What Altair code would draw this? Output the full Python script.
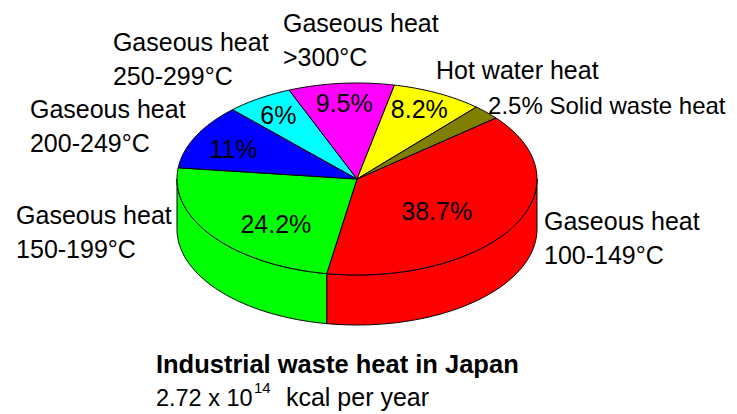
import altair as alt
import numpy as np
import pandas as pd

# ---------------- data ----------------
categories = [
    "Gaseous heat\n100-149°C",
    "Gaseous heat\n150-199°C",
    "Gaseous heat\n200-249°C",
    "Gaseous heat\n250-299°C",
    "Gaseous heat\n>300°C",
    "Hot water heat",
    "Solid waste heat",
]
shares = [38.7, 24.2, 11.0, 6.0, 9.5, 8.2, 2.5]
pct_labels = ["38.7%", "24.2%", "11%", "6%", "9.5%", "8.2%", "2.5%"]
colors = ["#ff0000", "#00ff00", "#0000ff", "#00ffff", "#ff00ff", "#ffff00", "#808000"]

title_text = "Industrial waste heat in Japan"
subtitle_main = "2.72 x 10"
subtitle_exp = "14"
subtitle_tail = "kcal per year"

# ---------------- layout / style ----------------
START_DEG = -39.5      # where the first slice starts (clockwise, screen)
TILT = 96 / 180        # vertical squash of the pie's top face
DEPTH = 50 / 180       # thickness of the pie
FONT = "Liberation Sans"
W, H = 721, 406
X_DOM = [-349 / 180, (W - 349) / 180]
Y_DOM = [-(H - 171) / 180, 171 / 180]

# label anchors in pie-radius units (relative to pie centre)
pct_anchor = [(0.443, -0.228), (-0.451, -0.300), (-0.687, 0.114),
              (-0.437, 0.308), (-0.071, 0.372), (0.346, 0.339)]
outer_anchor = [(1.039, -0.283), (-1.894, -0.250), (-1.817, 0.339),
                (-1.356, 0.711), (-0.411, 0.817), (0.439, 0.556), (0.728, 0.361)]
title_anchor = (-1.117, -1.078)
sub_anchor = (-1.117, -1.261)

# ---------------- geometry derived from the data ----------------
total = sum(shares)
sweeps = [s / total * 360 for s in shares]
starts = list(START_DEG + np.concatenate([[0], np.cumsum(sweeps)[:-1]]))
ends = [s + w for s, w in zip(starts, sweeps)]


def ellipse_pt(t_deg, drop=0.0):
    t = np.deg2rad(t_deg)
    return float(np.cos(t)), float(-TILT * np.sin(t) - drop)


top_rows, side_rows = [], []
for k, (s, e) in enumerate(zip(starts, ends)):
    ts = np.linspace(s, e, int(abs(e - s)) + 3)
    pts = [(0.0, 0.0)] + [ellipse_pt(t) for t in ts] + [(0.0, 0.0)]
    for i, (x, y) in enumerate(pts):
        top_rows.append({"pid": k, "i": i, "x": x, "y": y, "color": colors[k]})
    # visible side wall: front half of the ellipse (0..180 deg, screen clockwise)
    for shift in (-360, 0, 360):
        lo, hi = max(s + shift, 0), min(e + shift, 180)
        if hi > lo:
            ts = np.linspace(lo, hi, int(hi - lo) + 3)
            spts = [ellipse_pt(t) for t in ts] + [ellipse_pt(t, DEPTH) for t in ts[::-1]]
            spts.append(spts[0])
            for i, (x, y) in enumerate(spts):
                side_rows.append({"pid": f"{k}_{shift}", "i": i, "x": x, "y": y,
                                  "color": colors[k]})

top_df = pd.DataFrame(top_rows)
side_df = pd.DataFrame(side_rows)

xs = alt.Scale(domain=X_DOM, nice=False, zero=False)
ys = alt.Scale(domain=Y_DOM, nice=False, zero=False)
X = alt.X("x:Q", scale=xs, axis=None)
Y = alt.Y("y:Q", scale=ys, axis=None)


def poly_layer(df):
    return alt.Chart(df).mark_line(strokeWidth=1, interpolate="linear").encode(
        x=X, y=Y,
        order=alt.Order("i:Q"),
        detail=alt.Detail("pid:N"),
        fill=alt.Fill("color:N", scale=None, legend=None),
        stroke=alt.value("black"),
    )


side = poly_layer(side_df)
top = poly_layer(top_df)

pct_df = pd.DataFrame({
    "text": pct_labels[:6],
    "x": [p[0] for p in pct_anchor],
    "y": [p[1] for p in pct_anchor],
})
outer_texts = categories[:6] + [pct_labels[6] + " " + categories[6]]
outer_df = pd.DataFrame({
    "text": outer_texts,
    "x": [p[0] for p in outer_anchor],
    "y": [p[1] for p in outer_anchor],
})

pct = alt.Chart(pct_df).mark_text(
    align="center", baseline="alphabetic", font=FONT, fontSize=25, color="black"
).encode(x=X, y=Y, text="text:N")

outer_main = alt.Chart(outer_df.iloc[:6]).mark_text(
    align="left", baseline="alphabetic", font=FONT, fontSize=25, color="black",
    lineBreak="\n", lineHeight=34,
).encode(x=X, y=Y, text="text:N")

outer_last = alt.Chart(outer_df.iloc[6:]).mark_text(
    align="left", baseline="alphabetic", font=FONT, fontSize=24, color="black",
).encode(x=X, y=Y, text="text:N")

title_df = pd.DataFrame({"text": [title_text], "x": [title_anchor[0]], "y": [title_anchor[1]]})
title = alt.Chart(title_df).mark_text(
    align="left", baseline="alphabetic", font=FONT, fontSize=25.5, fontWeight="bold", color="black"
).encode(x=X, y=Y, text="text:N")

sub_df = pd.DataFrame({"text": [subtitle_main], "x": [sub_anchor[0]], "y": [sub_anchor[1]]})
sub = alt.Chart(sub_df).mark_text(
    align="left", baseline="alphabetic", font=FONT, fontSize=23.5, color="black"
).encode(x=X, y=Y, text="text:N")

exp = alt.Chart(sub_df.assign(text=subtitle_exp)).mark_text(
    align="left", baseline="alphabetic", font=FONT, fontSize=15, color="black", dx=98, dy=-13
).encode(x=X, y=Y, text="text:N")

tail = alt.Chart(sub_df.assign(text=subtitle_tail)).mark_text(
    align="left", baseline="alphabetic", font=FONT, fontSize=25, color="black", dx=130
).encode(x=X, y=Y, text="text:N")

chart = alt.layer(side, top, pct, outer_main, outer_last, title, sub, exp, tail).properties(
    width=W, height=H, padding=0,
    autosize=alt.AutoSizeParams(type="none"),
    background="white",
).configure_view(stroke=None)

chart.save("out.html", embed_options={"renderer": "svg", "actions": False})
